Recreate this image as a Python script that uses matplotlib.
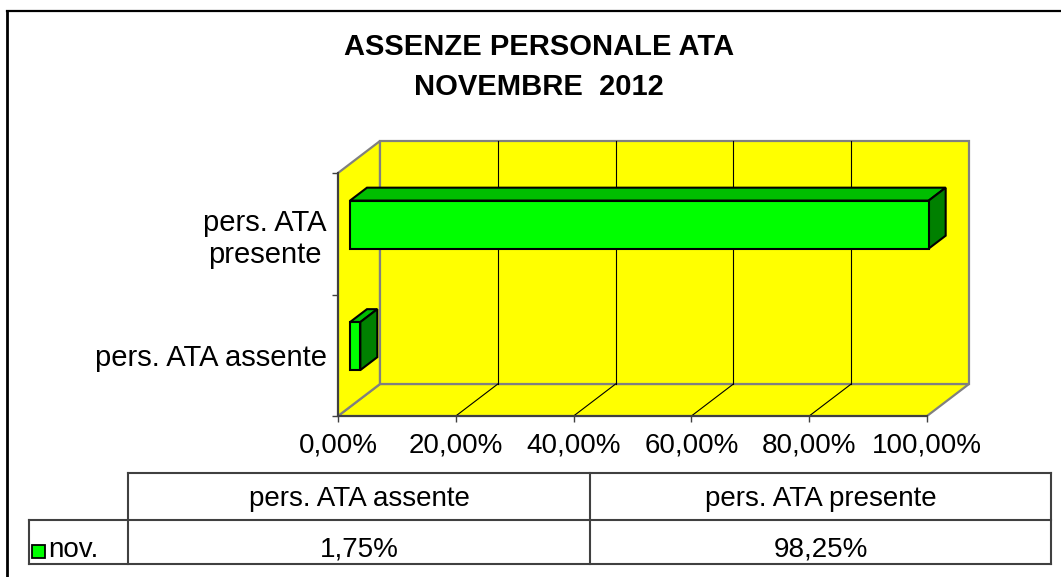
import matplotlib
matplotlib.use("Agg")
import matplotlib.pyplot as plt
from matplotlib.patches import Polygon, Rectangle
from matplotlib.lines import Line2D

# ---------------- data ----------------
categories = ["pers. ATA assente", "pers. ATA presente"]
values = [1.75, 98.25]            # percent
series_name = "nov."
title_lines = ["ASSENZE PERSONALE ATA", "NOVEMBRE  2012"]
xticks = [0, 20, 40, 60, 80, 100]
ytick_labels = ["pers. ATA assente", "pers. ATA\npresente"]

def pct(v):
    return f"{v:.2f}%".replace(".", ",")

# ---------------- style ----------------
plt.rcParams['font.family'] = ['Liberation Sans', 'DejaVu Sans']
FS = 20
W, H = 1061, 577
fig = plt.figure(figsize=(W / 100, H / 100), dpi=100)

# overlay axes in pixel coords (border, title, table)
ov = fig.add_axes([0, 0, 1, 1], zorder=0)
ov.set_xlim(0, W)
ov.set_ylim(H, 0)
ov.axis("off")

# main axes = front plane of the 3D box
L, R, T, B = 338, 927, 173, 416
ax = fig.add_axes([L / W, (H - B) / H, (R - L) / W, (B - T) / H], zorder=2)
ax.set_facecolor("none")
ax.set_xlim(0, 100)
ax.set_ylim(-0.5, len(categories) - 0.5)

# depth offsets (data units) for full depth
DX = 42 / (R - L) * 100
DY = 32 / (B - T) * len(categories)
d0, d1 = 0.286, 0.69
half = 0.1975

wall_kw = dict(facecolor="#FFFF00", edgecolor="#808080", linewidth=1.6,
               clip_on=False, joinstyle="miter")
y0, y1 = -0.5, len(categories) - 0.5
# floor
ax.add_patch(Polygon([(0, y0), (100, y0), (100 + DX, y0 + DY), (DX, y0 + DY)],
                     zorder=1, **wall_kw))
# side wall
ax.add_patch(Polygon([(0, y0), (DX, y0 + DY), (DX, y1 + DY), (0, y1)],
                     zorder=1, **wall_kw))
# back wall
ax.add_patch(Polygon([(DX, y0 + DY), (100 + DX, y0 + DY), (100 + DX, y1 + DY), (DX, y1 + DY)],
                     zorder=1, **wall_kw))
# gridlines
for t in xticks[1:-1]:
    ax.add_line(Line2D([t + DX, t + DX], [y0 + DY, y1 + DY], color="black",
                       linewidth=0.8, clip_on=False, zorder=2))
    ax.add_line(Line2D([t, t + DX], [y0, y0 + DY], color="black",
                       linewidth=0.8, clip_on=False, zorder=2))

# bars
bar_kw = dict(edgecolor="black", linewidth=1.5, clip_on=False, joinstyle="miter")
for i, v in enumerate(values):
    ox, oy = d0 * DX, d0 * DY
    ddx, ddy = (d1 - d0) * DX, (d1 - d0) * DY
    xa, xb = ox, v + ox
    ya, yb = i - half + oy, i + half + oy
    # top face
    ax.add_patch(Polygon([(xa, yb), (xb, yb), (xb + ddx, yb + ddy), (xa + ddx, yb + ddy)],
                         facecolor="#00BE00", zorder=3, **bar_kw))
    # side face
    ax.add_patch(Polygon([(xb, ya), (xb + ddx, ya + ddy), (xb + ddx, yb + ddy), (xb, yb)],
                         facecolor="#008000", zorder=3, **bar_kw))
    # front face
    ax.add_patch(Polygon([(xa, ya), (xb, ya), (xb, yb), (xa, yb)],
                         facecolor="#00FF00", zorder=4, **bar_kw))

# axes, ticks
for s in ["top", "right"]:
    ax.spines[s].set_visible(False)
for s in ["left", "bottom"]:
    ax.spines[s].set_color("#404040")
    ax.spines[s].set_linewidth(1.5)
    ax.spines[s].set_zorder(5)
ax.set_xticks(xticks)
ax.set_xticklabels([pct(t) for t in xticks], fontsize=FS)
ax.set_yticks(range(len(categories)))
ax.set_yticklabels(ytick_labels, fontsize=21, multialignment="center")
ax.set_yticks([y0, 0.5, y1], minor=True)
ax.tick_params(axis="y", which="major", length=0, pad=8)
ax.tick_params(axis="y", which="minor", length=4.5, width=1, color="#404040")
ax.tick_params(axis="x", length=4.5, width=1, color="#404040", pad=7.5)

# ---------------- overlay: border, title, table ----------------
ov.add_line(Line2D([7, 7], [11, H], color="black", linewidth=2))
ov.add_line(Line2D([7, W], [11, 11], color="black", linewidth=1.6))

ov.text(539, 47, title_lines[0], ha="center", va="center", fontsize=21,
        fontweight="bold")
ov.text(539, 87, title_lines[1], ha="center", va="center", fontsize=21,
        fontweight="bold")

lc = "#404040"
lw = 1.5
ty0, ty1, ty2 = 473, 520, 564
cx0, cx1, cx2, cx3 = 29, 128, 590, 1051
for (xs, ys) in [([cx1, cx3], [ty0, ty0]), ([cx0, cx3], [ty1, ty1]),
                 ([cx0, cx3], [ty2, ty2]), ([cx0, cx0], [ty1, ty2]),
                 ([cx1, cx1], [ty0, ty2]), ([cx2, cx2], [ty0, ty2]),
                 ([cx3, cx3], [ty0, ty2])]:
    ov.add_line(Line2D(xs, ys, color=lc, linewidth=lw))

cell_centers = [(cx1 + cx2) / 2, (cx2 + cx3) / 2]
for c, cat, v in zip(cell_centers, categories, values):
    ov.text(c, 506, cat, ha="center", va="baseline", fontsize=FS)
    ov.text(c, 557, pct(v), ha="center", va="baseline", fontsize=FS)

ov.add_patch(Rectangle((32, 545), 13, 13, facecolor="#00FF00", edgecolor="black",
                       linewidth=1.3))
ov.text(48, 557, series_name, ha="left", va="baseline", fontsize=FS)

fig.savefig("out.png", dpi=100)
